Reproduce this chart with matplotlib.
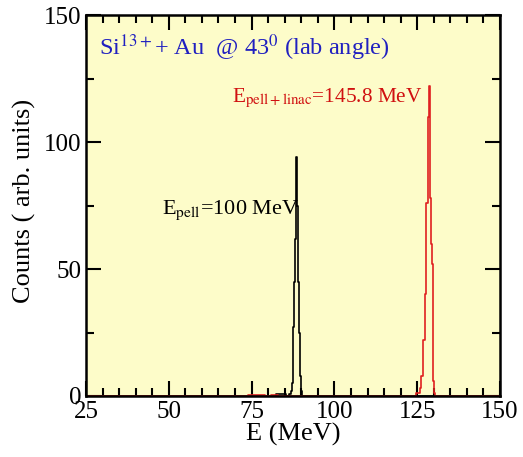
import matplotlib
matplotlib.use("Agg")
import matplotlib.pyplot as plt
from matplotlib.ticker import MultipleLocator

plt.rcParams['font.family'] = ['Liberation Serif', 'DejaVu Serif']
plt.rcParams['mathtext.fontset'] = 'stix'

# Black spectrum (E_pell = 100 MeV)
black_E = [25, 60, 80, 85, 86, 86.5, 87, 87.25, 87.5, 87.75, 88, 88.25, 88.5, 88.75,
           89, 89.25, 89.5, 89.75, 90, 90.5, 95, 150]
black_C = [0, 0, 0, 0.6, 0, 0.8, 2, 5, 12, 27, 45, 62, 94, 75,
           61, 45, 25, 8, 2, 0, 0, 0]

# Red spectrum (E_pell+linac = 145.8 MeV)
red_E = [25, 70, 78, 80, 82, 84, 100, 120, 124, 125.5, 126, 126.5, 127, 127.5, 128,
         128.25, 128.5, 128.75, 129, 129.25, 129.5, 129.75, 130, 130.25, 130.5, 150]
red_C = [0, 0, 0.5, 0, 0.5, 0, 0, 0, 0, 1, 3, 8, 22, 40, 76,
         95, 110, 122, 78, 60, 52, 20, 6, 1, 0, 0]

fig = plt.figure(figsize=(5.23, 4.57), dpi=100)
ax = fig.add_axes([0.1644, 0.1335, 0.7916, 0.8335])
ax.set_facecolor('#fdfcc9')

ax.step(black_E, black_C, where='mid', color='black', lw=1.2)
ax.step(red_E, red_C, where='mid', color='#e02020', lw=1.2)

ax.set_xlim(25, 150)
ax.set_ylim(0, 150)
ax.xaxis.set_major_locator(MultipleLocator(25))
ax.xaxis.set_minor_locator(MultipleLocator(5))
ax.yaxis.set_major_locator(MultipleLocator(50))
ax.yaxis.set_minor_locator(MultipleLocator(25))
ax.tick_params(which='both', direction='in', top=True, right=True, width=1.5,
               labelsize=18, colors='black')
ax.tick_params(which='major', length=11)
ax.tick_params(which='minor', length=6)
for s in ax.spines.values():
    s.set_linewidth(1.8)

ax.set_xlabel('E (MeV)', fontsize=19, labelpad=0)
ax.set_ylabel('Counts ( arb. units)', fontsize=19)
ax.yaxis.set_label_coords(-0.12, 0.512)

ax.text(29, 137, r'Si$^{13+}$+ Au  @ 43$^{0}$ (lab angle)', color='#2020c0',
        fontsize=17.5, va='center')
ax.text(48, 73, r'E$_{\mathrm{pell}}$=100 MeV', color='black', fontsize=16,
        va='center')
ax.text(69.2, 117, r'E$_{\mathrm{pell+linac}}$=145.8 MeV', color='#d01010',
        fontsize=15.3, va='center')

fig.savefig('out.png', dpi=100)
